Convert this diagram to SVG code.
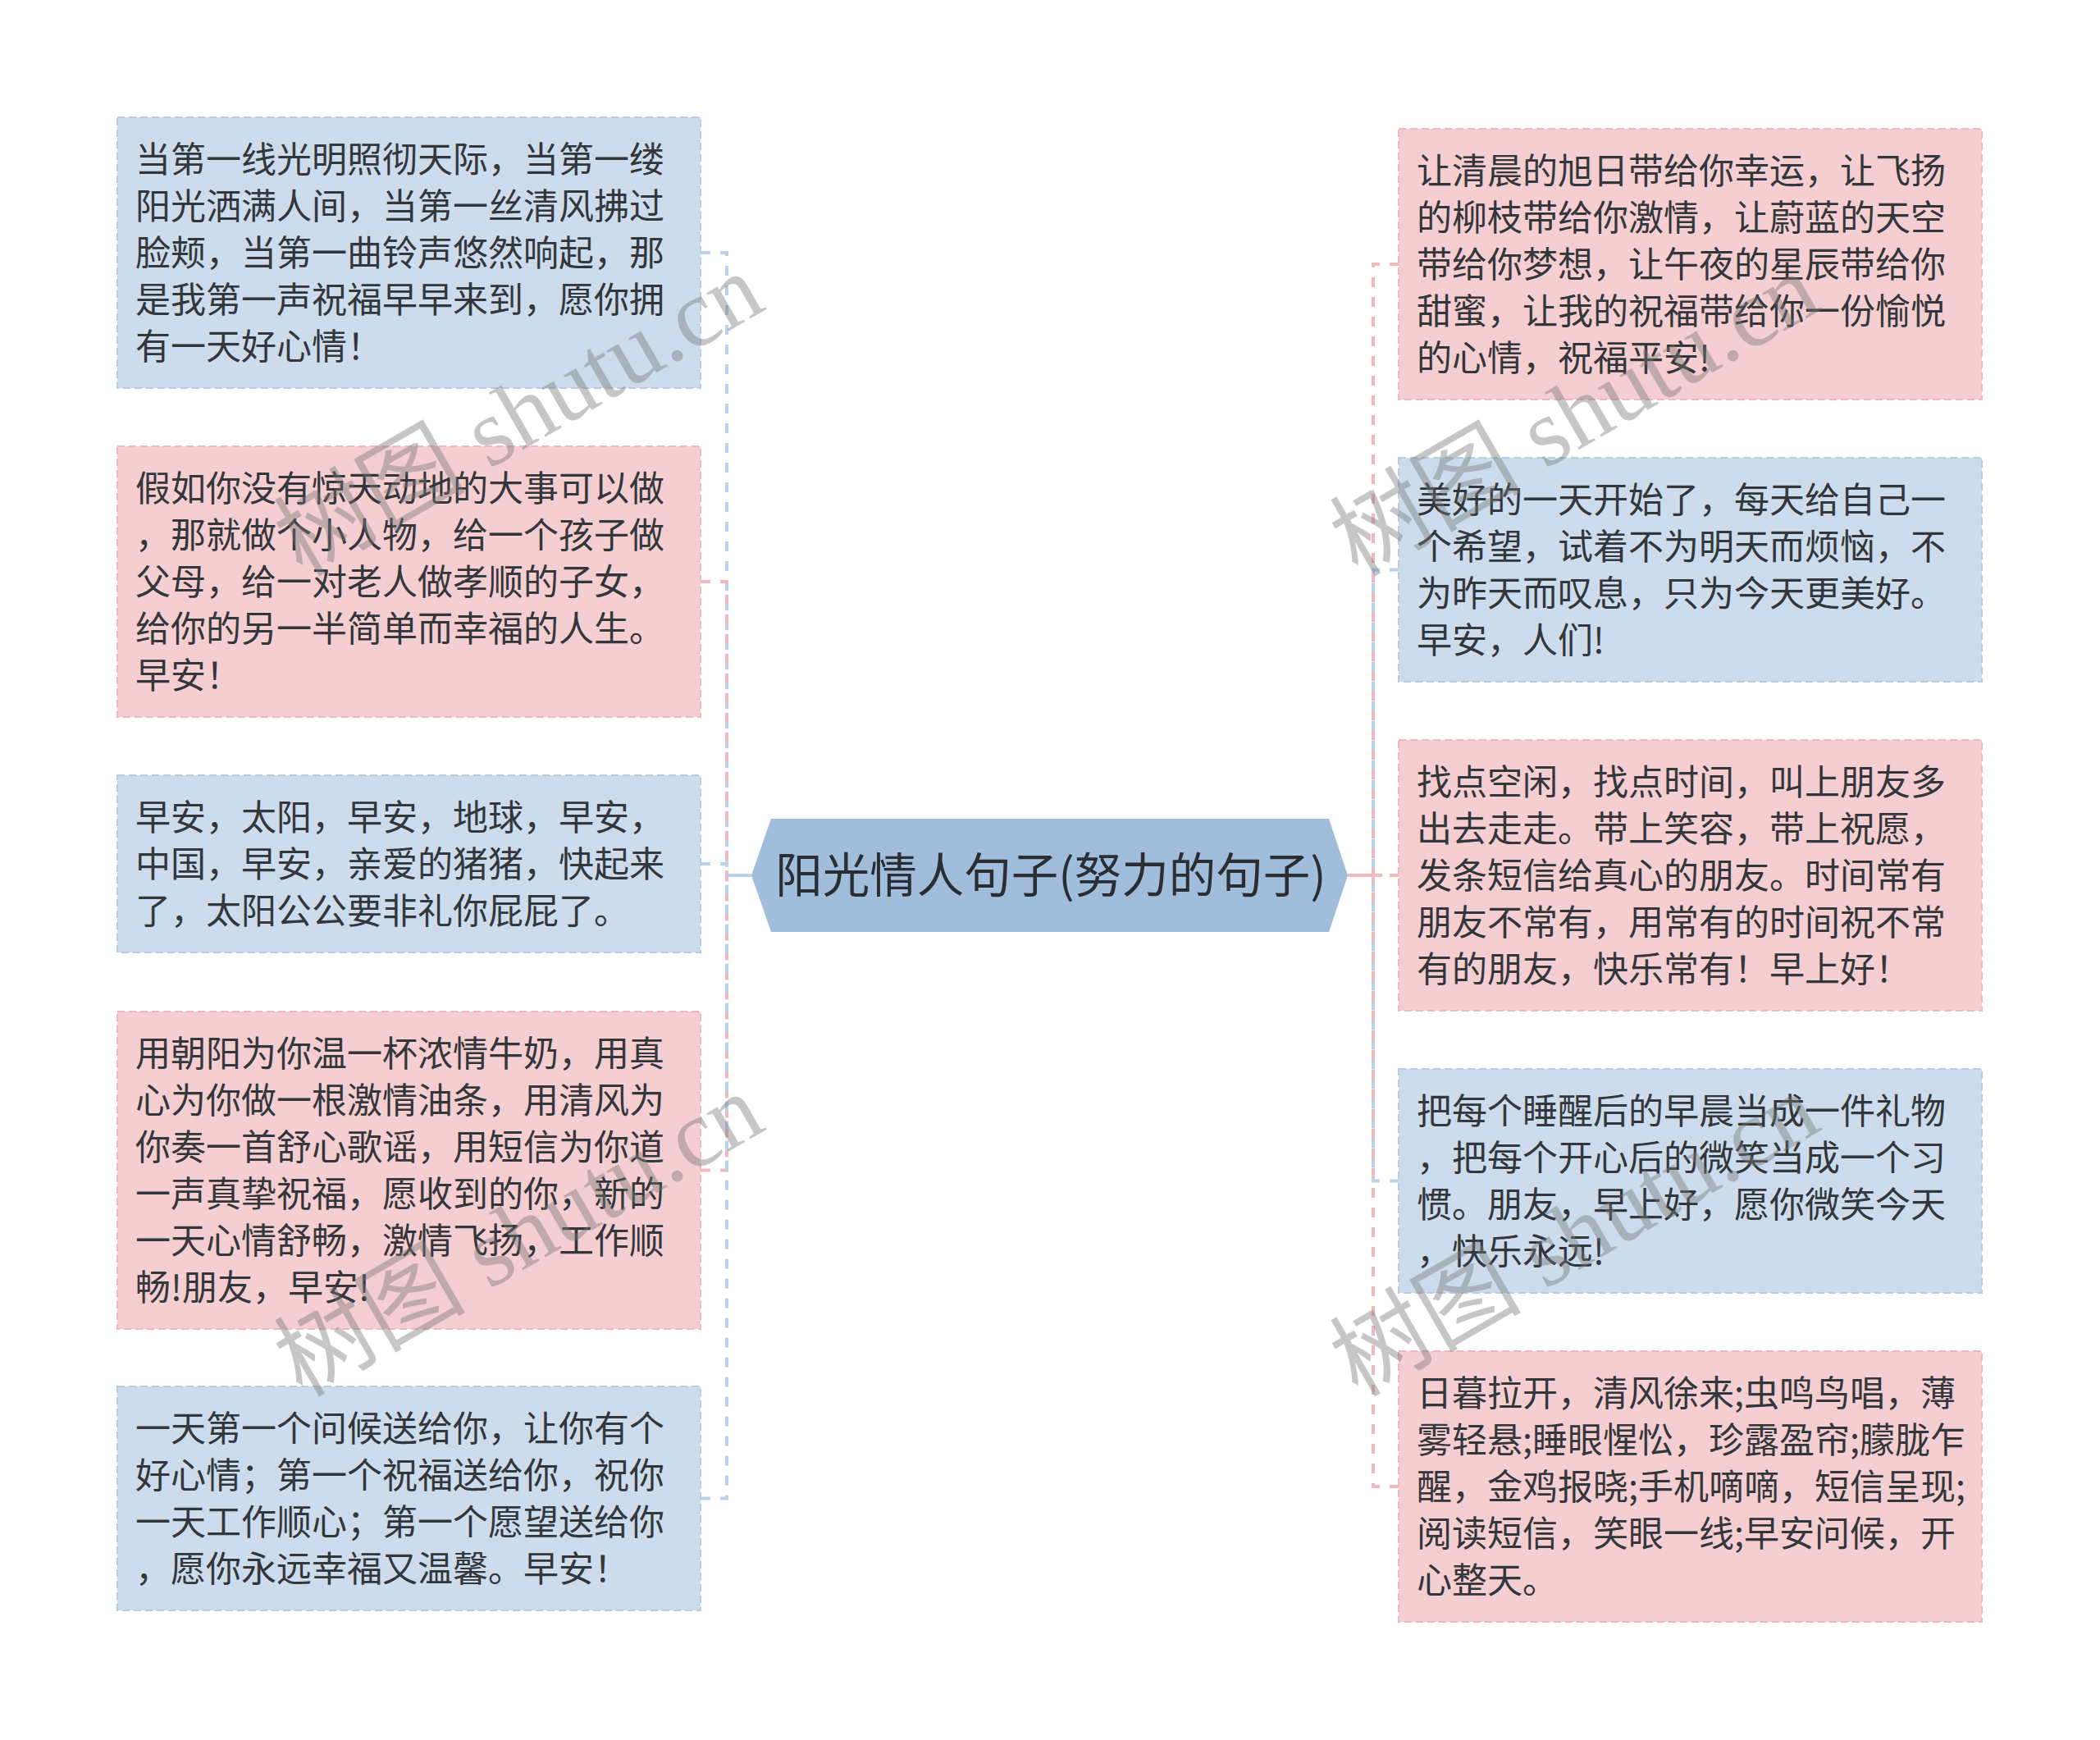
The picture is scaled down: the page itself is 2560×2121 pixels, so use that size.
<svg xmlns="http://www.w3.org/2000/svg" width="2560" height="2121" viewBox="0 0 2560 2121">
<style>
.bg{fill:#ffffff}
.blue{fill:#ccdcec;stroke:#b7cce3;stroke-width:2;stroke-dasharray:9 5}
.pink{fill:#f5ced1;stroke:#ecb9be;stroke-width:2;stroke-dasharray:9 5}
.t{font-family:"Noto Sans CJK SC","Noto Sans",sans-serif;font-size:43px;fill:#33363a}
.ct{font-family:"Noto Sans CJK SC","Noto Sans",sans-serif;font-size:57.5px;fill:#2a2e33}
.cb{fill:none;stroke:#bcd1e6;stroke-width:4;stroke-dasharray:12 12}
.cp{fill:none;stroke:#f0b9be;stroke-width:4;stroke-dasharray:12 12}
.sb{fill:none;stroke:#bcd1e6;stroke-width:4}
.sp{fill:none;stroke:#f0b9be;stroke-width:4}
.wm{font-family:"Liberation Serif","Noto Sans CJK SC",serif;font-size:117px;fill:#777;fill-opacity:0.42}
</style>
<rect class="bg" x="0" y="0" width="2560" height="2121"/>
<g id="connectors">
<path class="cb" d="M854,1053 H886 V1067 H916"/>
<path class="cb" d="M854,308 H886 V1067 H916"/>
<path class="cp" d="M854,709 H886 V1067 H916"/>
<path class="cp" d="M854,1426.5 H886 V1067 H916"/>
<path class="cb" d="M854,1826.5 H886 V1067 H916"/>
<path class="sb" d="M886,1067 H916"/>
<path class="cp" d="M1706,322 H1674 V1067 H1643"/>
<path class="cb" d="M1706,694.5 H1674 V1067 H1643"/>
<path class="cp" d="M1706,1067 H1643"/>
<path class="cb" d="M1706,1439.5 H1674 V1067 H1643"/>
<path class="cp" d="M1706,1812 H1674 V1067 H1643"/>
<path class="sp" d="M1643,1067 H1685"/>
</g>
<g id="center">
<polygon points="916,1067 940,998 1620,998 1643,1067 1620,1136 940,1136" fill="#a0bedb"/>
<text class="ct" x="1281" y="1088" text-anchor="middle">阳光情人句子(努力的句子)</text>
</g>
<g id="L1">
<rect class="blue" x="143" y="143" width="711" height="330"/>
<text class="t"><tspan x="165" y="210">当第一线光明照彻天际，当第一缕</tspan><tspan x="165" y="267">阳光洒满人间，当第一丝清风拂过</tspan><tspan x="165" y="324">脸颊，当第一曲铃声悠然响起，那</tspan><tspan x="165" y="381">是我第一声祝福早早来到，愿你拥</tspan><tspan x="165" y="438">有一天好心情！</tspan></text>
</g>
<g id="L2">
<rect class="pink" x="143" y="544" width="711" height="330"/>
<text class="t"><tspan x="165" y="611">假如你没有惊天动地的大事可以做</tspan><tspan x="165" y="668">，那就做个小人物，给一个孩子做</tspan><tspan x="165" y="725">父母，给一对老人做孝顺的子女，</tspan><tspan x="165" y="782">给你的另一半简单而幸福的人生。</tspan><tspan x="165" y="839">早安！</tspan></text>
</g>
<g id="L3">
<rect class="blue" x="143" y="945" width="711" height="216"/>
<text class="t"><tspan x="165" y="1012">早安，太阳，早安，地球，早安，</tspan><tspan x="165" y="1069">中国，早安，亲爱的猪猪，快起来</tspan><tspan x="165" y="1126">了，太阳公公要非礼你屁屁了。</tspan></text>
</g>
<g id="L4">
<rect class="pink" x="143" y="1233" width="711" height="387"/>
<text class="t"><tspan x="165" y="1300">用朝阳为你温一杯浓情牛奶，用真</tspan><tspan x="165" y="1357">心为你做一根激情油条，用清风为</tspan><tspan x="165" y="1414">你奏一首舒心歌谣，用短信为你道</tspan><tspan x="165" y="1471">一声真挚祝福，愿收到的你，新的</tspan><tspan x="165" y="1528">一天心情舒畅，激情飞扬，工作顺</tspan><tspan x="165" y="1585">畅!朋友，早安!</tspan></text>
</g>
<g id="L5">
<rect class="blue" x="143" y="1690" width="711" height="273"/>
<text class="t"><tspan x="165" y="1757">一天第一个问候送给你，让你有个</tspan><tspan x="165" y="1814">好心情；第一个祝福送给你，祝你</tspan><tspan x="165" y="1871">一天工作顺心；第一个愿望送给你</tspan><tspan x="165" y="1928">，愿你永远幸福又温馨。早安！</tspan></text>
</g>
<g id="R1">
<rect class="pink" x="1705" y="157" width="711" height="330"/>
<text class="t"><tspan x="1727" y="224">让清晨的旭日带给你幸运，让飞扬</tspan><tspan x="1727" y="281">的柳枝带给你激情，让蔚蓝的天空</tspan><tspan x="1727" y="338">带给你梦想，让午夜的星辰带给你</tspan><tspan x="1727" y="395">甜蜜，让我的祝福带给你一份愉悦</tspan><tspan x="1727" y="452">的心情，祝福平安!</tspan></text>
</g>
<g id="R2">
<rect class="blue" x="1705" y="558" width="711" height="273"/>
<text class="t"><tspan x="1727" y="625">美好的一天开始了，每天给自己一</tspan><tspan x="1727" y="682">个希望，试着不为明天而烦恼，不</tspan><tspan x="1727" y="739">为昨天而叹息，只为今天更美好。</tspan><tspan x="1727" y="796">早安，人们!</tspan></text>
</g>
<g id="R3">
<rect class="pink" x="1705" y="902" width="711" height="330"/>
<text class="t"><tspan x="1727" y="969">找点空闲，找点时间，叫上朋友多</tspan><tspan x="1727" y="1026">出去走走。带上笑容，带上祝愿，</tspan><tspan x="1727" y="1083">发条短信给真心的朋友。时间常有</tspan><tspan x="1727" y="1140">朋友不常有，用常有的时间祝不常</tspan><tspan x="1727" y="1197">有的朋友，快乐常有！早上好！</tspan></text>
</g>
<g id="R4">
<rect class="blue" x="1705" y="1303" width="711" height="273"/>
<text class="t"><tspan x="1727" y="1370">把每个睡醒后的早晨当成一件礼物</tspan><tspan x="1727" y="1427">，把每个开心后的微笑当成一个习</tspan><tspan x="1727" y="1484">惯。朋友，早上好，愿你微笑今天</tspan><tspan x="1727" y="1541">，快乐永远!</tspan></text>
</g>
<g id="R5">
<rect class="pink" x="1705" y="1647" width="711" height="330"/>
<text class="t"><tspan x="1727" y="1714">日暮拉开，清风徐来;虫鸣鸟唱，薄</tspan><tspan x="1727" y="1771">雾轻悬;睡眼惺忪，珍露盈帘;朦胧乍</tspan><tspan x="1727" y="1828">醒，金鸡报晓;手机嘀嘀，短信呈现;</tspan><tspan x="1727" y="1885">阅读短信，笑眼一线;早安问候，开</tspan><tspan x="1727" y="1942">心整天。</tspan></text>
</g>
<g id="watermarks">
<text class="wm" transform="translate(368,704) rotate(-30)">树图 shutu.cn</text>
<text class="wm" transform="translate(368,1704) rotate(-30)">树图 shutu.cn</text>
<text class="wm" transform="translate(1655,704) rotate(-30)">树图 shutu.cn</text>
<text class="wm" transform="translate(1655,1704) rotate(-30)">树图 shutu.cn</text>
</g>
</svg>
